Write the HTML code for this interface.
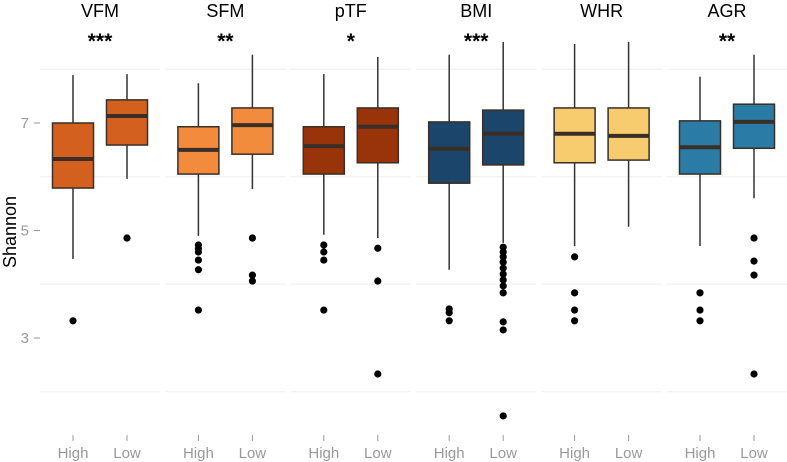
<!DOCTYPE html>
<html><head><meta charset="utf-8"><style>
body{margin:0;background:#fff}
svg{display:block;font-family:"Liberation Sans",sans-serif}
</style></head><body>
<svg id="chart" width="787" height="462" viewBox="0 0 787 462">
<text x="10" y="232" transform="rotate(-90 10 232)" text-anchor="middle" font-size="18" fill="#000" dy="6">Shannon</text>
<g id="g"></g>
</svg>
<script>
const panels=["VFM","SFM","pTF","BMI","WHR","AGR"];
const stars=["***","**","*","***","","**"];
const groups=["High","Low"];
const colors=["#d4601f","#f28c3c","#98330a","#1b456a","#f7cc6e","#2a7ca6"];
const yTicks=[3,5,7];
const gridVals=[2,4,6,8];
// [whiskerLow, Q1, median, Q3, whiskerHigh]
const stats=[
 [[4.47,5.79,6.33,7.0,7.89],[5.96,6.59,7.13,7.43,7.91]],
 [[4.9,6.05,6.5,6.93,7.74],[5.77,6.42,6.96,7.28,8.27]],
 [[4.92,6.05,6.57,6.93,7.91],[4.86,6.26,6.93,7.28,8.23]],
 [[4.27,5.88,6.52,7.02,8.27],[4.77,6.22,6.8,7.24,8.51]],
 [[4.71,6.26,6.8,7.28,8.47],[5.07,6.31,6.76,7.28,8.51]],
 [[4.71,6.05,6.55,7.04,7.86],[5.6,6.53,7.02,7.35,8.27]]
];
const outliers=[
 [[3.32],[4.86]],
 [[4.73,4.66,4.6,4.45,4.27,3.52],[4.86,4.17,4.06]],
 [[4.73,4.6,4.45,3.52],[4.67,4.06,2.33]],
 [[3.54,3.47,3.32],[4.69,4.6,4.51,4.41,4.3,4.19,4.08,3.97,3.84,3.3,3.15,1.55]],
 [[4.51,3.84,3.52,3.32],[]],
 [[3.84,3.52,3.32],[4.86,4.43,4.17,2.33]]
];
const NS="http://www.w3.org/2000/svg";
const g=document.getElementById('g');
const y=v=>123+(7-v)*53.75;
const panelX=p=>100+p*125.4;
const xPos=(p,i)=>panelX(p)-27+i*54;
function mk(t,a,parent){const e=document.createElementNS(NS,t);for(const k in a)e.setAttribute(k,a[k]);(parent||g).appendChild(e);return e;}
panels.forEach((name,p)=>{
 const pg=mk('g',{});
 
 
 gridVals.forEach(v=>{const l=mk('line',{x1:panelX(p)-60,x2:panelX(p)+60,y1:y(v),y2:y(v),stroke:'#efefef','stroke-width':1},pg);
  });
 const t=mk('text',{x:panelX(p),y:17,'text-anchor':'middle','font-size':18,fill:'#000'},pg);t.textContent=name;
 
 if(stars[p]){const s=mk('text',{x:panelX(p),y:48,'text-anchor':'middle','font-size':21,'font-weight':'bold',fill:'#000'},pg);s.textContent=stars[p];
  }
 groups.forEach((gr,i)=>{
  const x=xPos(p,i),st=stats[p][i],w=41;
  const bg=mk('g',{},pg);
  
  
  mk('line',{x1:x,x2:x,y1:y(st[4]),y2:y(st[0]),stroke:'#333','stroke-width':1.5},bg);
  mk('rect',{x:x-w/2,y:y(st[3]),width:w,height:y(st[1])-y(st[3]),fill:colors[p],stroke:'#3a2e26','stroke-width':1.5},bg);
  mk('line',{x1:x-w/2,x2:x+w/2,y1:y(st[2]),y2:y(st[2]),stroke:'#3a2e26','stroke-width':4},bg);
  outliers[p][i].forEach(v=>{const c=mk('circle',{cx:x,cy:y(v),r:3.6,fill:'#000'},bg);
   });
  mk('line',{x1:x,x2:x,y1:435,y2:441,stroke:'#999','stroke-width':1},pg);
  const xl=mk('text',{x:x,y:458,'text-anchor':'middle','font-size':15,fill:'#999'},pg);xl.textContent=gr;
  
 });
});
yTicks.forEach(v=>{
 mk('line',{x1:34,x2:40,y1:y(v),y2:y(v),stroke:'#999','stroke-width':1});
 const t=mk('text',{x:29,y:y(v)+5,'text-anchor':'end','font-size':15,fill:'#999'});t.textContent=v;
 
});
</script>
</body></html>
